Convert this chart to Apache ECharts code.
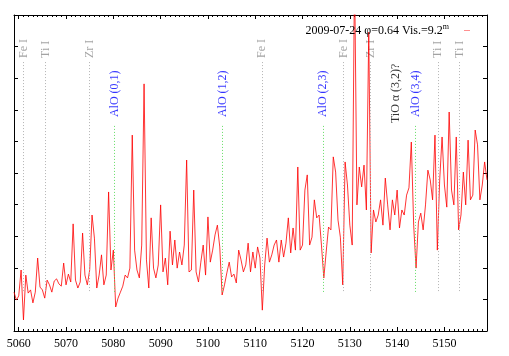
<!DOCTYPE html>
<html>
<head>
<meta charset="utf-8">
<script src="https://cdn.jsdelivr.net/npm/echarts@6/dist/echarts.min.js"></script>
<style>
  html, body { margin: 0; padding: 0; background: #fff; }
  #chart { width: 509px; height: 356px; }
</style>
</head>
<body>
<div id="chart"></div>
<script>
// spectrum sampled every 0.5 A starting at 5059 A (relative flux)
var wlStart = 5059;
var wlStep = 0.5;
var flux = [
  1.23,0.98,1.11,1.93,0.35,1.77,1.20,1.30,0.89,1.23,
  2.31,1.39,1.30,1.04,1.61,1.46,1.23,1.58,1.65,1.49,
  1.42,2.15,1.46,1.80,1.55,3.39,1.61,1.36,1.55,3.10,
  1.77,1.46,1.93,3.67,2.94,1.36,1.77,2.41,1.46,1.77,
  4.40,1.93,2.56,0.76,1.04,1.23,1.42,1.77,1.68,1.99,
  6.20,2.56,1.93,1.68,2.72,7.82,2.25,1.36,3.58,1.99,
  1.68,2.09,3.99,1.87,2.31,1.46,3.16,2.09,2.88,1.99,
  2.50,2.09,2.72,5.41,1.87,1.93,4.46,1.87,1.55,2.18,
  2.72,1.77,3.61,2.18,2.56,3.04,3.35,2.66,1.14,1.46,
  1.84,2.18,1.71,1.80,1.52,2.56,2.25,1.87,2.09,2.78,
  1.87,2.50,1.99,2.66,2.31,0.66,2.09,2.94,2.18,2.41,
  2.72,2.88,2.18,2.88,2.34,2.78,3.58,2.47,3.26,2.56,
  5.19,2.56,2.72,4.46,4.94,2.72,2.97,4.15,3.58,3.67,
  2.72,1.68,2.50,3.29,3.20,5.51,5.03,3.51,2.97,1.46,
  5.35,4.62,3.35,2.72,11.5,3.99,5.19,4.56,5.25,3.83,
  9.46,2.47,3.83,3.45,3.67,4.15,3.35,4.84,3.99,3.20,
  4.15,3.67,4.46,3.26,3.83,3.67,4.30,4.53,5.98,3.35,
  1.99,3.45,3.73,3.20,3.99,5.09,4.78,4.15,6.20,2.56,
  4.78,6.14,4.62,3.92,6.93,4.46,3.99,6.14,3.20,3.67,
  5.03,3.99,6.04,4.15,4.30,6.36,5.89,4.15,4.62,5.35,
  4.78
];
var xTickLabels = [5060, 5070, 5080, 5090, 5100, 5110, 5120, 5130, 5140, 5150];

// line identifications
var lineWl   = [5061.0, 5065.7, 5075.0, 5080.3, 5103.1, 5111.4, 5124.3, 5128.7, 5134.4, 5139.8, 5143.9, 5148.6, 5153.2];
var lineName = ['Fe I', 'Ti I', 'Zr I', 'AlO (0,1)', 'AlO (1,2)', 'Fe I', 'AlO (2,3)', 'Fe I', 'Zr I', 'TiO \u03b1 (3,2)?', 'AlO (3,4)', 'Ti I', 'Ti I'];
var lineKind = ['atom', 'atom', 'atom', 'mol', 'mol', 'atom', 'mol', 'atom', 'atom', 'tio', 'mol', 'atom', 'atom'];

var seriesName = '2009-07-24 \u03c6=0.64 Vis.=9.2m';

var FONT = 'Liberation Serif';
// where labels / dotted lines sit, per kind (in flux units)
var kindStyle = {
  atom: { text: '#8c8c8c', line: '#b4b4b4', labelAt: 8.64, top: 8.51, bottom: 1.2 },
  mol:  { text: '#0000ff', line: '#66dd66', labelAt: 6.77, top: 6.49, bottom: 1.2 },
  tio:  { text: '#000000', line: null,      labelAt: 6.58 }
};

var specData = flux.map(function (f, i) { return [wlStart + i * wlStep, f]; });

var labelData = [];
var markLines = [];
for (var i = 0; i < lineWl.length; i++) {
  var ks = kindStyle[lineKind[i]];
  labelData.push({
    value: [lineWl[i], ks.labelAt],
    name: lineName[i],
    label: { color: ks.text }
  });
  if (ks.line) {
    markLines.push([
      { coord: [lineWl[i], ks.top], lineStyle: { color: ks.line, type: [1, 2], width: 1 } },
      { coord: [lineWl[i], ks.bottom] }
    ]);
  }
}

var chart = echarts.init(document.getElementById('chart'), null, { renderer: 'canvas' });

function xAx(pos, major, labels) {
  return {
    type: 'value',
    position: pos,
    min: 5059,
    max: 5159,
    interval: major ? 10 : 1,
    axisLine: { show: major, lineStyle: { color: '#000', width: 1 } },
    axisTick: major
      ? { show: true, inside: true, length: 4, customValues: xTickLabels, lineStyle: { color: '#000' } }
      : { show: true, inside: true, length: 2, lineStyle: { color: '#000' } },
    axisLabel: labels
      ? { show: true, customValues: xTickLabels, color: '#000', fontFamily: FONT, fontSize: 12, margin: 7,
          formatter: function (v) { return String(v); } }
      : { show: false },
    splitLine: { show: false }
  };
}
function yAx(pos) {
  return {
    type: 'value',
    position: pos,
    min: 0,
    max: 10,
    interval: 1,
    axisLine: { show: true, lineStyle: { color: '#000', width: 1 } },
    axisTick: { show: true, inside: true, length: 4, lineStyle: { color: '#000' } },
    axisLabel: { show: false },
    splitLine: { show: false }
  };
}

var option = {
  animation: false,
  backgroundColor: '#fff',
  grid: { left: 14, right: 22, top: 15, bottom: 25, containLabel: false },
  legend: {
    data: [seriesName],
    right: 34,
    top: 18,
    align: 'right',
    icon: 'rect',
    itemWidth: 6,
    itemHeight: 1,
    itemStyle: { color: '#ff9090' },
    textStyle: {
      fontFamily: FONT, fontSize: 12, color: '#000', padding: [0, 10, 0, 0],
      rich: { sup: { fontFamily: FONT, fontSize: 8, color: '#000', padding: [0, 0, 7, 0] } }
    },
    formatter: function (n) { return n.slice(0, -1) + '{sup|m}'; }
  },
  xAxis: [xAx('bottom', true, true), xAx('bottom', false, false), xAx('top', true, false), xAx('top', false, false)],
  yAxis: [yAx('left'), yAx('right')],
  series: [
    {
      name: 'lines',
      type: 'scatter',
      xAxisIndex: 0,
      yAxisIndex: 0,
      symbolSize: 0,
      silent: true,
      data: labelData,
      label: {
        show: true,
        position: 'inside',
        rotate: 90,
        align: 'left',
        verticalAlign: 'middle',
        fontFamily: FONT,
        fontSize: 12,
        formatter: function (p) { return p.name; }
      },
      markLine: {
        silent: true,
        symbol: ['none', 'none'],
        label: { show: false },
        data: markLines
      }
    },
    {
      name: seriesName,
      type: 'line',
      xAxisIndex: 0,
      yAxisIndex: 0,
      data: specData,
      showSymbol: false,
      clip: true,
      lineStyle: { color: '#ff0000', width: 0.8 },
      itemStyle: { color: '#ff0000' }
    }
  ]
};
chart.setOption(option);
</script>
</body>
</html>
